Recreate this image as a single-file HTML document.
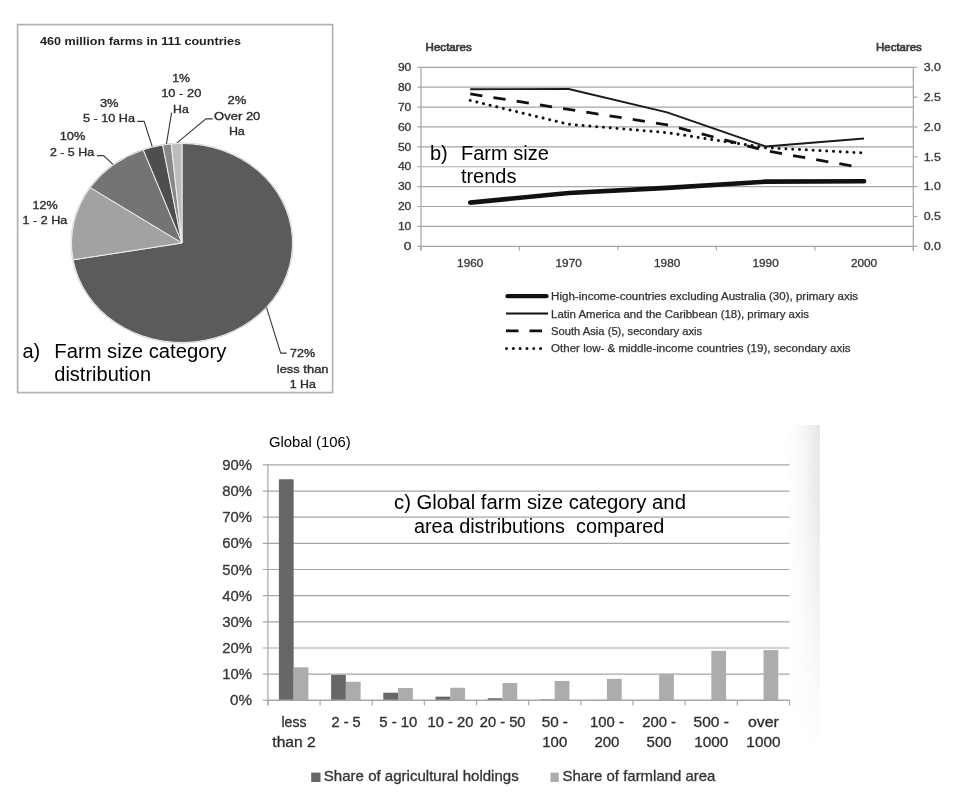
<!DOCTYPE html>
<html><head><meta charset="utf-8"><title>Farm size charts</title>
<style>html,body{margin:0;padding:0;background:#fff;width:965px;height:796px;overflow:hidden}svg{display:block;filter:blur(0.3px)}</style>
</head><body>
<svg width="965" height="796" viewBox="0 0 965 796"><rect x="17.6" y="24.6" width="315" height="368" fill="#fff" stroke="#b2b2b2" stroke-width="1.7"/>
<text x="40.10" y="44.90" font-family="Liberation Sans, sans-serif" font-size="11.4" font-weight="bold" fill="#1e1e1e" textLength="201.05" lengthAdjust="spacingAndGlyphs" xml:space="preserve">460 million farms in 111 countries</text>
<ellipse cx="182" cy="243" rx="111.4" ry="100.4" fill="#c9c9c9"/>
<path d="M182,243 L182.00,143.50 A110.5,99.5 0 1 1 73.09,259.80 Z" fill="#5b5b5b" stroke="#f0f0f0" stroke-width="1" stroke-linejoin="round"/>
<path d="M182,243 L73.09,259.80 A110.5,99.5 0 0 1 90.22,187.59 Z" fill="#a2a2a2" stroke="#f0f0f0" stroke-width="1" stroke-linejoin="round"/>
<path d="M182,243 L90.22,187.59 A110.5,99.5 0 0 1 143.27,149.81 Z" fill="#747474" stroke="#f0f0f0" stroke-width="1" stroke-linejoin="round"/>
<path d="M182,243 L143.27,149.81 A110.5,99.5 0 0 1 162.66,145.04 Z" fill="#4e4e4e" stroke="#f0f0f0" stroke-width="1" stroke-linejoin="round"/>
<path d="M182,243 L162.66,145.04 A110.5,99.5 0 0 1 171.26,143.97 Z" fill="#888888" stroke="#f0f0f0" stroke-width="1" stroke-linejoin="round"/>
<path d="M182,243 L171.26,143.97 A110.5,99.5 0 0 1 182.00,143.50 Z" fill="#bcbcbc" stroke="#f0f0f0" stroke-width="1" stroke-linejoin="round"/>
<polyline points="137.2,121.4 144.1,121.4 152.2,146.5" fill="none" stroke="#3a3a3a" stroke-width="1.1"/>
<polyline points="97,155.6 103.6,155.6 113,164.4" fill="none" stroke="#3a3a3a" stroke-width="1.1"/>
<polyline points="171.6,112.6 166.4,144.2" fill="none" stroke="#3a3a3a" stroke-width="1.1"/>
<polyline points="212.7,118.9 205.9,118.9 177,142.9" fill="none" stroke="#3a3a3a" stroke-width="1.1"/>
<polyline points="266.4,307.2 280.7,353.1 286.7,353.1" fill="none" stroke="#3a3a3a" stroke-width="1.1"/>
<text x="99.90" y="106.90" font-family="Liberation Sans, sans-serif" font-size="11.2" fill="#303030" textLength="18.69" lengthAdjust="spacingAndGlyphs" xml:space="preserve" stroke="#2a2a2a" stroke-width="0.35">3%</text>
<text x="82.90" y="122.30" font-family="Liberation Sans, sans-serif" font-size="11.2" fill="#303030" textLength="52.07" lengthAdjust="spacingAndGlyphs" xml:space="preserve" stroke="#2a2a2a" stroke-width="0.35">5 - 10 Ha</text>
<text x="59.70" y="140.20" font-family="Liberation Sans, sans-serif" font-size="11.2" fill="#303030" textLength="25.62" lengthAdjust="spacingAndGlyphs" xml:space="preserve" stroke="#2a2a2a" stroke-width="0.35">10%</text>
<text x="49.90" y="155.80" font-family="Liberation Sans, sans-serif" font-size="11.2" fill="#303030" textLength="44.14" lengthAdjust="spacingAndGlyphs" xml:space="preserve" stroke="#2a2a2a" stroke-width="0.35">2 - 5 Ha</text>
<text x="32.60" y="209.00" font-family="Liberation Sans, sans-serif" font-size="11.2" fill="#303030" textLength="25.12" lengthAdjust="spacingAndGlyphs" xml:space="preserve" stroke="#2a2a2a" stroke-width="0.35">12%</text>
<text x="22.60" y="224.00" font-family="Liberation Sans, sans-serif" font-size="11.2" fill="#303030" textLength="44.54" lengthAdjust="spacingAndGlyphs" xml:space="preserve" stroke="#2a2a2a" stroke-width="0.35">1 - 2 Ha</text>
<text x="172.30" y="81.50" font-family="Liberation Sans, sans-serif" font-size="11.2" fill="#303030" textLength="17.69" lengthAdjust="spacingAndGlyphs" xml:space="preserve" stroke="#2a2a2a" stroke-width="0.35">1%</text>
<text x="161.20" y="97.00" font-family="Liberation Sans, sans-serif" font-size="11.2" fill="#303030" textLength="40.17" lengthAdjust="spacingAndGlyphs" xml:space="preserve" stroke="#2a2a2a" stroke-width="0.35">10 - 20</text>
<text x="173.10" y="112.50" font-family="Liberation Sans, sans-serif" font-size="11.2" fill="#303030" textLength="15.71" lengthAdjust="spacingAndGlyphs" xml:space="preserve" stroke="#2a2a2a" stroke-width="0.35">Ha</text>
<text x="227.50" y="104.40" font-family="Liberation Sans, sans-serif" font-size="11.2" fill="#303030" textLength="18.79" lengthAdjust="spacingAndGlyphs" xml:space="preserve" stroke="#2a2a2a" stroke-width="0.35">2%</text>
<text x="214.10" y="120.00" font-family="Liberation Sans, sans-serif" font-size="11.2" fill="#303030" textLength="46.25" lengthAdjust="spacingAndGlyphs" xml:space="preserve" stroke="#2a2a2a" stroke-width="0.35">Over 20</text>
<text x="228.90" y="135.40" font-family="Liberation Sans, sans-serif" font-size="11.2" fill="#303030" textLength="15.91" lengthAdjust="spacingAndGlyphs" xml:space="preserve" stroke="#2a2a2a" stroke-width="0.35">Ha</text>
<text x="290.00" y="357.10" font-family="Liberation Sans, sans-serif" font-size="11.2" fill="#303030" textLength="25.02" lengthAdjust="spacingAndGlyphs" xml:space="preserve" stroke="#2a2a2a" stroke-width="0.35">72%</text>
<text x="276.80" y="372.60" font-family="Liberation Sans, sans-serif" font-size="11.2" fill="#303030" textLength="51.74" lengthAdjust="spacingAndGlyphs" xml:space="preserve" stroke="#2a2a2a" stroke-width="0.35">less than</text>
<text x="289.70" y="388.10" font-family="Liberation Sans, sans-serif" font-size="11.2" fill="#303030" textLength="26.16" lengthAdjust="spacingAndGlyphs" xml:space="preserve" stroke="#2a2a2a" stroke-width="0.35">1 Ha</text>
<text x="22.40" y="357.80" font-family="Liberation Sans, sans-serif" font-size="20" fill="#000" xml:space="preserve">a)</text>
<text x="54.30" y="357.80" font-family="Liberation Sans, sans-serif" font-size="20" fill="#000" textLength="172.05" lengthAdjust="spacingAndGlyphs" xml:space="preserve">Farm size category</text>
<text x="54.30" y="381.40" font-family="Liberation Sans, sans-serif" font-size="20" fill="#000" xml:space="preserve">distribution</text>
<line x1="417.4" y1="246.30" x2="913.3" y2="246.30" stroke="#a6a6a6" stroke-width="1.2"/>
<text x="403.80" y="250.00" font-family="Liberation Sans, sans-serif" font-size="10.5" fill="#383838" textLength="7.65" lengthAdjust="spacingAndGlyphs" xml:space="preserve" stroke="#383838" stroke-width="0.3">0</text>
<line x1="417.4" y1="226.41" x2="913.3" y2="226.41" stroke="#a6a6a6" stroke-width="1.2"/>
<text x="397.90" y="230.11" font-family="Liberation Sans, sans-serif" font-size="10.5" fill="#383838" textLength="13.47" lengthAdjust="spacingAndGlyphs" xml:space="preserve" stroke="#383838" stroke-width="0.3">10</text>
<line x1="417.4" y1="206.52" x2="913.3" y2="206.52" stroke="#a6a6a6" stroke-width="1.2"/>
<text x="397.90" y="210.22" font-family="Liberation Sans, sans-serif" font-size="10.5" fill="#383838" textLength="13.47" lengthAdjust="spacingAndGlyphs" xml:space="preserve" stroke="#383838" stroke-width="0.3">20</text>
<line x1="417.4" y1="186.63" x2="913.3" y2="186.63" stroke="#a6a6a6" stroke-width="1.2"/>
<text x="397.90" y="190.33" font-family="Liberation Sans, sans-serif" font-size="10.5" fill="#383838" textLength="13.47" lengthAdjust="spacingAndGlyphs" xml:space="preserve" stroke="#383838" stroke-width="0.3">30</text>
<line x1="417.4" y1="166.74" x2="913.3" y2="166.74" stroke="#a6a6a6" stroke-width="1.2"/>
<text x="397.90" y="170.44" font-family="Liberation Sans, sans-serif" font-size="10.5" fill="#383838" textLength="13.47" lengthAdjust="spacingAndGlyphs" xml:space="preserve" stroke="#383838" stroke-width="0.3">40</text>
<line x1="417.4" y1="146.86" x2="913.3" y2="146.86" stroke="#a6a6a6" stroke-width="1.2"/>
<text x="397.90" y="150.56" font-family="Liberation Sans, sans-serif" font-size="10.5" fill="#383838" textLength="13.47" lengthAdjust="spacingAndGlyphs" xml:space="preserve" stroke="#383838" stroke-width="0.3">50</text>
<line x1="417.4" y1="126.97" x2="913.3" y2="126.97" stroke="#a6a6a6" stroke-width="1.2"/>
<text x="397.90" y="130.67" font-family="Liberation Sans, sans-serif" font-size="10.5" fill="#383838" textLength="13.47" lengthAdjust="spacingAndGlyphs" xml:space="preserve" stroke="#383838" stroke-width="0.3">60</text>
<line x1="417.4" y1="107.08" x2="913.3" y2="107.08" stroke="#a6a6a6" stroke-width="1.2"/>
<text x="397.90" y="110.78" font-family="Liberation Sans, sans-serif" font-size="10.5" fill="#383838" textLength="13.47" lengthAdjust="spacingAndGlyphs" xml:space="preserve" stroke="#383838" stroke-width="0.3">70</text>
<line x1="417.4" y1="87.19" x2="913.3" y2="87.19" stroke="#a6a6a6" stroke-width="1.2"/>
<text x="397.90" y="90.89" font-family="Liberation Sans, sans-serif" font-size="10.5" fill="#383838" textLength="13.47" lengthAdjust="spacingAndGlyphs" xml:space="preserve" stroke="#383838" stroke-width="0.3">80</text>
<line x1="417.4" y1="67.30" x2="913.3" y2="67.30" stroke="#a6a6a6" stroke-width="1.2"/>
<text x="397.90" y="71.00" font-family="Liberation Sans, sans-serif" font-size="10.5" fill="#383838" textLength="13.47" lengthAdjust="spacingAndGlyphs" xml:space="preserve" stroke="#383838" stroke-width="0.3">90</text>
<line x1="913.3" y1="246.30" x2="917.4" y2="246.30" stroke="#a6a6a6" stroke-width="1.2"/>
<text x="923.70" y="250.00" font-family="Liberation Sans, sans-serif" font-size="10.5" fill="#383838" textLength="17.29" lengthAdjust="spacingAndGlyphs" xml:space="preserve" stroke="#383838" stroke-width="0.3">0.0</text>
<line x1="913.3" y1="216.47" x2="917.4" y2="216.47" stroke="#a6a6a6" stroke-width="1.2"/>
<text x="923.70" y="220.17" font-family="Liberation Sans, sans-serif" font-size="10.5" fill="#383838" textLength="17.29" lengthAdjust="spacingAndGlyphs" xml:space="preserve" stroke="#383838" stroke-width="0.3">0.5</text>
<line x1="913.3" y1="186.63" x2="917.4" y2="186.63" stroke="#a6a6a6" stroke-width="1.2"/>
<text x="923.70" y="190.33" font-family="Liberation Sans, sans-serif" font-size="10.5" fill="#383838" textLength="17.29" lengthAdjust="spacingAndGlyphs" xml:space="preserve" stroke="#383838" stroke-width="0.3">1.0</text>
<line x1="913.3" y1="156.80" x2="917.4" y2="156.80" stroke="#a6a6a6" stroke-width="1.2"/>
<text x="923.70" y="160.50" font-family="Liberation Sans, sans-serif" font-size="10.5" fill="#383838" textLength="17.29" lengthAdjust="spacingAndGlyphs" xml:space="preserve" stroke="#383838" stroke-width="0.3">1.5</text>
<line x1="913.3" y1="126.97" x2="917.4" y2="126.97" stroke="#a6a6a6" stroke-width="1.2"/>
<text x="923.70" y="130.67" font-family="Liberation Sans, sans-serif" font-size="10.5" fill="#383838" textLength="17.29" lengthAdjust="spacingAndGlyphs" xml:space="preserve" stroke="#383838" stroke-width="0.3">2.0</text>
<line x1="913.3" y1="97.13" x2="917.4" y2="97.13" stroke="#a6a6a6" stroke-width="1.2"/>
<text x="923.70" y="100.83" font-family="Liberation Sans, sans-serif" font-size="10.5" fill="#383838" textLength="17.29" lengthAdjust="spacingAndGlyphs" xml:space="preserve" stroke="#383838" stroke-width="0.3">2.5</text>
<line x1="913.3" y1="67.30" x2="917.4" y2="67.30" stroke="#a6a6a6" stroke-width="1.2"/>
<text x="923.70" y="71.00" font-family="Liberation Sans, sans-serif" font-size="10.5" fill="#383838" textLength="17.29" lengthAdjust="spacingAndGlyphs" xml:space="preserve" stroke="#383838" stroke-width="0.3">3.0</text>
<line x1="421" y1="67" x2="421" y2="250.6" stroke="#a6a6a6" stroke-width="1.2"/>
<line x1="913.3" y1="67" x2="913.3" y2="250.6" stroke="#a6a6a6" stroke-width="1.2"/>
<line x1="421.00" y1="246.3" x2="421.00" y2="250.6" stroke="#a6a6a6" stroke-width="1.2"/>
<line x1="519.46" y1="246.3" x2="519.46" y2="250.6" stroke="#a6a6a6" stroke-width="1.2"/>
<line x1="617.92" y1="246.3" x2="617.92" y2="250.6" stroke="#a6a6a6" stroke-width="1.2"/>
<line x1="716.38" y1="246.3" x2="716.38" y2="250.6" stroke="#a6a6a6" stroke-width="1.2"/>
<line x1="814.84" y1="246.3" x2="814.84" y2="250.6" stroke="#a6a6a6" stroke-width="1.2"/>
<line x1="913.30" y1="246.3" x2="913.30" y2="250.6" stroke="#a6a6a6" stroke-width="1.2"/>
<text x="457.13" y="266.60" font-family="Liberation Sans, sans-serif" font-size="10.2" fill="#383838" textLength="26.19" lengthAdjust="spacingAndGlyphs" xml:space="preserve" stroke="#383838" stroke-width="0.3">1960</text>
<text x="555.59" y="266.60" font-family="Liberation Sans, sans-serif" font-size="10.2" fill="#383838" textLength="26.19" lengthAdjust="spacingAndGlyphs" xml:space="preserve" stroke="#383838" stroke-width="0.3">1970</text>
<text x="654.05" y="266.60" font-family="Liberation Sans, sans-serif" font-size="10.2" fill="#383838" textLength="26.19" lengthAdjust="spacingAndGlyphs" xml:space="preserve" stroke="#383838" stroke-width="0.3">1980</text>
<text x="752.51" y="266.60" font-family="Liberation Sans, sans-serif" font-size="10.2" fill="#383838" textLength="26.19" lengthAdjust="spacingAndGlyphs" xml:space="preserve" stroke="#383838" stroke-width="0.3">1990</text>
<text x="850.97" y="266.60" font-family="Liberation Sans, sans-serif" font-size="10.2" fill="#383838" textLength="26.19" lengthAdjust="spacingAndGlyphs" xml:space="preserve" stroke="#383838" stroke-width="0.3">2000</text>
<text x="425.60" y="51.30" font-family="Liberation Sans, sans-serif" font-size="10.2" fill="#3a3a3a" textLength="46.22" lengthAdjust="spacingAndGlyphs" xml:space="preserve" stroke="#3a3a3a" stroke-width="0.6">Hectares</text>
<text x="876.10" y="51.30" font-family="Liberation Sans, sans-serif" font-size="10.2" fill="#3a3a3a" textLength="45.72" lengthAdjust="spacingAndGlyphs" xml:space="preserve" stroke="#3a3a3a" stroke-width="0.6">Hectares</text>
<polyline points="470.23,89.18 568.69,88.98 667.15,112.45 765.61,146.46 864.07,138.50" fill="none" stroke="#1a1a1a" stroke-width="1.9" stroke-linejoin="round"/>
<polyline points="470.23,93.85 568.69,109.42 667.15,124.82 765.61,150.65 854.22,166.39" fill="none" stroke="#111" stroke-width="2.8" stroke-dasharray="12.3 11.2" stroke-linejoin="round"/>
<polyline points="470.23,100.41 568.69,124.28 667.15,132.63 765.61,147.67 864.07,152.98" fill="none" stroke="#111" stroke-width="3.0" stroke-dasharray="0.01 6.8" stroke-linecap="round"/>
<polyline points="470.23,202.62 568.69,193.00 667.15,187.83 765.61,181.66 864.07,181.26" fill="none" stroke="#111" stroke-width="4.6" stroke-linecap="round" stroke-linejoin="round"/>
<text x="429.90" y="159.90" font-family="Liberation Sans, sans-serif" font-size="20" fill="#000" xml:space="preserve">b)</text>
<text x="460.90" y="159.90" font-family="Liberation Sans, sans-serif" font-size="20" fill="#000" textLength="87.99" lengthAdjust="spacingAndGlyphs" xml:space="preserve">Farm size</text>
<text x="460.90" y="183.40" font-family="Liberation Sans, sans-serif" font-size="20" fill="#000" xml:space="preserve">trends</text>
<line x1="507.5" y1="296.1" x2="546.5" y2="296.1" stroke="#111" stroke-width="4.4" stroke-linecap="round"/>
<line x1="506" y1="313.5" x2="548" y2="313.5" stroke="#111" stroke-width="1.8"/>
<line x1="506" y1="330.8" x2="547" y2="330.8" stroke="#111" stroke-width="2.8" stroke-dasharray="12.5 11"/>
<line x1="506.5" y1="348.5" x2="546" y2="348.5" stroke="#111" stroke-width="3" stroke-dasharray="0.01 6.8" stroke-linecap="round"/>
<text x="551.10" y="300.40" font-family="Liberation Sans, sans-serif" font-size="10" fill="#333" textLength="307.00" lengthAdjust="spacingAndGlyphs" xml:space="preserve" stroke="#333" stroke-width="0.25">High-income-countries excluding Australia (30), primary axis</text>
<text x="551.10" y="317.50" font-family="Liberation Sans, sans-serif" font-size="10" fill="#333" textLength="257.86" lengthAdjust="spacingAndGlyphs" xml:space="preserve" stroke="#333" stroke-width="0.25">Latin America and the Caribbean (18), primary axis</text>
<text x="551.10" y="334.50" font-family="Liberation Sans, sans-serif" font-size="10" fill="#333" textLength="151.06" lengthAdjust="spacingAndGlyphs" xml:space="preserve" stroke="#333" stroke-width="0.25">South Asia (5), secondary axis</text>
<text x="551.10" y="351.50" font-family="Liberation Sans, sans-serif" font-size="10" fill="#333" textLength="299.53" lengthAdjust="spacingAndGlyphs" xml:space="preserve" stroke="#333" stroke-width="0.25">Other low- &amp; middle-income countries (19), secondary axis</text>
<defs><linearGradient id="gh" x1="0" x2="1" y1="0" y2="0"><stop offset="0" stop-color="#e8e8e8" stop-opacity="0"/><stop offset="0.4" stop-color="#e8e8e8" stop-opacity="0.25"/><stop offset="1" stop-color="#e6e6e6" stop-opacity="1"/></linearGradient><linearGradient id="gv" x1="0" x2="0" y1="0" y2="1"><stop offset="0" stop-color="#fff"/><stop offset="0.25" stop-color="#e6e6e6"/><stop offset="0.55" stop-color="#8c8c8c"/><stop offset="1" stop-color="#000"/></linearGradient><mask id="mv" maskUnits="userSpaceOnUse" x="780" y="420" width="45" height="340"><rect x="780" y="425" width="45" height="325" fill="url(#gv)"/></mask></defs>
<rect x="787" y="425" width="33" height="325" fill="url(#gh)" mask="url(#mv)"/>
<line x1="262.8" y1="674.14" x2="789.5" y2="674.14" stroke="#a6a6a6" stroke-width="1.2"/>
<line x1="262.8" y1="647.99" x2="789.5" y2="647.99" stroke="#a6a6a6" stroke-width="1.2"/>
<line x1="262.8" y1="621.83" x2="789.5" y2="621.83" stroke="#a6a6a6" stroke-width="1.2"/>
<line x1="262.8" y1="595.68" x2="789.5" y2="595.68" stroke="#a6a6a6" stroke-width="1.2"/>
<line x1="262.8" y1="569.52" x2="789.5" y2="569.52" stroke="#a6a6a6" stroke-width="1.2"/>
<line x1="262.8" y1="543.36" x2="789.5" y2="543.36" stroke="#a6a6a6" stroke-width="1.2"/>
<line x1="262.8" y1="517.21" x2="789.5" y2="517.21" stroke="#a6a6a6" stroke-width="1.2"/>
<line x1="262.8" y1="491.05" x2="789.5" y2="491.05" stroke="#a6a6a6" stroke-width="1.2"/>
<line x1="262.8" y1="464.90" x2="789.5" y2="464.90" stroke="#a6a6a6" stroke-width="1.2"/>
<line x1="262.8" y1="700.30" x2="267.9" y2="700.30" stroke="#a6a6a6" stroke-width="1.2"/>
<text x="230.00" y="705.30" font-family="Liberation Sans, sans-serif" font-size="14" fill="#383838" textLength="22.04" lengthAdjust="spacingAndGlyphs" xml:space="preserve" stroke="#383838" stroke-width="0.3">0%</text>
<text x="222.20" y="679.14" font-family="Liberation Sans, sans-serif" font-size="14" fill="#383838" textLength="29.82" lengthAdjust="spacingAndGlyphs" xml:space="preserve" stroke="#383838" stroke-width="0.3">10%</text>
<text x="222.20" y="652.99" font-family="Liberation Sans, sans-serif" font-size="14" fill="#383838" textLength="29.82" lengthAdjust="spacingAndGlyphs" xml:space="preserve" stroke="#383838" stroke-width="0.3">20%</text>
<text x="222.20" y="626.83" font-family="Liberation Sans, sans-serif" font-size="14" fill="#383838" textLength="29.82" lengthAdjust="spacingAndGlyphs" xml:space="preserve" stroke="#383838" stroke-width="0.3">30%</text>
<text x="222.20" y="600.68" font-family="Liberation Sans, sans-serif" font-size="14" fill="#383838" textLength="29.82" lengthAdjust="spacingAndGlyphs" xml:space="preserve" stroke="#383838" stroke-width="0.3">40%</text>
<text x="222.20" y="574.52" font-family="Liberation Sans, sans-serif" font-size="14" fill="#383838" textLength="29.82" lengthAdjust="spacingAndGlyphs" xml:space="preserve" stroke="#383838" stroke-width="0.3">50%</text>
<text x="222.20" y="548.36" font-family="Liberation Sans, sans-serif" font-size="14" fill="#383838" textLength="29.82" lengthAdjust="spacingAndGlyphs" xml:space="preserve" stroke="#383838" stroke-width="0.3">60%</text>
<text x="222.20" y="522.21" font-family="Liberation Sans, sans-serif" font-size="14" fill="#383838" textLength="29.82" lengthAdjust="spacingAndGlyphs" xml:space="preserve" stroke="#383838" stroke-width="0.3">70%</text>
<text x="222.20" y="496.05" font-family="Liberation Sans, sans-serif" font-size="14" fill="#383838" textLength="29.82" lengthAdjust="spacingAndGlyphs" xml:space="preserve" stroke="#383838" stroke-width="0.3">80%</text>
<text x="222.20" y="469.90" font-family="Liberation Sans, sans-serif" font-size="14" fill="#383838" textLength="29.82" lengthAdjust="spacingAndGlyphs" xml:space="preserve" stroke="#383838" stroke-width="0.3">90%</text>
<rect x="278.90" y="479.28" width="14.75" height="221.02" fill="#676767"/>
<rect x="293.65" y="667.34" width="14.75" height="32.96" fill="#acacac"/>
<rect x="331.11" y="674.93" width="14.75" height="25.37" fill="#676767"/>
<rect x="345.86" y="681.73" width="14.75" height="18.57" fill="#acacac"/>
<rect x="383.32" y="692.71" width="14.75" height="7.59" fill="#676767"/>
<rect x="398.07" y="688.01" width="14.75" height="12.29" fill="#acacac"/>
<rect x="435.53" y="696.64" width="14.75" height="3.66" fill="#676767"/>
<rect x="450.28" y="687.75" width="14.75" height="12.55" fill="#acacac"/>
<rect x="487.74" y="698.21" width="14.75" height="2.09" fill="#676767"/>
<rect x="502.49" y="683.04" width="14.75" height="17.26" fill="#acacac"/>
<rect x="539.95" y="699.52" width="14.75" height="0.78" fill="#676767"/>
<rect x="554.70" y="680.94" width="14.75" height="19.36" fill="#acacac"/>
<rect x="592.16" y="699.91" width="14.75" height="0.39" fill="#676767"/>
<rect x="606.91" y="678.85" width="14.75" height="21.45" fill="#acacac"/>
<rect x="644.37" y="700.04" width="14.75" height="0.26" fill="#676767"/>
<rect x="659.12" y="673.88" width="14.75" height="26.42" fill="#acacac"/>
<rect x="696.58" y="700.17" width="14.75" height="0.13" fill="#676767"/>
<rect x="711.33" y="650.87" width="14.75" height="49.43" fill="#acacac"/>
<rect x="748.79" y="700.17" width="14.75" height="0.13" fill="#676767"/>
<rect x="763.54" y="650.08" width="14.75" height="50.22" fill="#acacac"/>
<line x1="267.9" y1="464" x2="267.9" y2="705.3" stroke="#a6a6a6" stroke-width="1.2"/>
<line x1="267.9" y1="700.3" x2="789.5" y2="700.3" stroke="#a6a6a6" stroke-width="1.4"/>
<line x1="267.90" y1="700.3" x2="267.90" y2="705.4" stroke="#a6a6a6" stroke-width="1.2"/>
<line x1="320.06" y1="700.3" x2="320.06" y2="705.4" stroke="#a6a6a6" stroke-width="1.2"/>
<line x1="372.22" y1="700.3" x2="372.22" y2="705.4" stroke="#a6a6a6" stroke-width="1.2"/>
<line x1="424.38" y1="700.3" x2="424.38" y2="705.4" stroke="#a6a6a6" stroke-width="1.2"/>
<line x1="476.54" y1="700.3" x2="476.54" y2="705.4" stroke="#a6a6a6" stroke-width="1.2"/>
<line x1="528.70" y1="700.3" x2="528.70" y2="705.4" stroke="#a6a6a6" stroke-width="1.2"/>
<line x1="580.86" y1="700.3" x2="580.86" y2="705.4" stroke="#a6a6a6" stroke-width="1.2"/>
<line x1="633.02" y1="700.3" x2="633.02" y2="705.4" stroke="#a6a6a6" stroke-width="1.2"/>
<line x1="685.18" y1="700.3" x2="685.18" y2="705.4" stroke="#a6a6a6" stroke-width="1.2"/>
<line x1="737.34" y1="700.3" x2="737.34" y2="705.4" stroke="#a6a6a6" stroke-width="1.2"/>
<line x1="789.50" y1="700.3" x2="789.50" y2="705.4" stroke="#a6a6a6" stroke-width="1.2"/>
<text x="281.48" y="726.70" font-family="Liberation Sans, sans-serif" font-size="14" fill="#2e2e2e" textLength="25.00" lengthAdjust="spacingAndGlyphs" xml:space="preserve" stroke="#2e2e2e" stroke-width="0.3">less</text>
<text x="272.33" y="746.60" font-family="Liberation Sans, sans-serif" font-size="14" fill="#2e2e2e" textLength="43.32" lengthAdjust="spacingAndGlyphs" xml:space="preserve" stroke="#2e2e2e" stroke-width="0.3">than 2</text>
<text x="331.54" y="726.70" font-family="Liberation Sans, sans-serif" font-size="14" fill="#2e2e2e" textLength="29.21" lengthAdjust="spacingAndGlyphs" xml:space="preserve" stroke="#2e2e2e" stroke-width="0.3">2 - 5</text>
<text x="379.25" y="726.70" font-family="Liberation Sans, sans-serif" font-size="14" fill="#2e2e2e" textLength="38.10" lengthAdjust="spacingAndGlyphs" xml:space="preserve" stroke="#2e2e2e" stroke-width="0.3">5 - 10</text>
<text x="427.56" y="726.70" font-family="Liberation Sans, sans-serif" font-size="14" fill="#2e2e2e" textLength="45.78" lengthAdjust="spacingAndGlyphs" xml:space="preserve" stroke="#2e2e2e" stroke-width="0.3">10 - 20</text>
<text x="479.72" y="726.70" font-family="Liberation Sans, sans-serif" font-size="14" fill="#2e2e2e" textLength="45.78" lengthAdjust="spacingAndGlyphs" xml:space="preserve" stroke="#2e2e2e" stroke-width="0.3">20 - 50</text>
<text x="541.68" y="726.70" font-family="Liberation Sans, sans-serif" font-size="14" fill="#2e2e2e" textLength="26.23" lengthAdjust="spacingAndGlyphs" xml:space="preserve" stroke="#2e2e2e" stroke-width="0.3">50 -</text>
<text x="542.28" y="746.60" font-family="Liberation Sans, sans-serif" font-size="14" fill="#2e2e2e" textLength="24.95" lengthAdjust="spacingAndGlyphs" xml:space="preserve" stroke="#2e2e2e" stroke-width="0.3">100</text>
<text x="590.04" y="726.70" font-family="Liberation Sans, sans-serif" font-size="14" fill="#2e2e2e" textLength="33.81" lengthAdjust="spacingAndGlyphs" xml:space="preserve" stroke="#2e2e2e" stroke-width="0.3">100 -</text>
<text x="594.44" y="746.60" font-family="Liberation Sans, sans-serif" font-size="14" fill="#2e2e2e" textLength="24.95" lengthAdjust="spacingAndGlyphs" xml:space="preserve" stroke="#2e2e2e" stroke-width="0.3">200</text>
<text x="642.20" y="726.70" font-family="Liberation Sans, sans-serif" font-size="14" fill="#2e2e2e" textLength="33.81" lengthAdjust="spacingAndGlyphs" xml:space="preserve" stroke="#2e2e2e" stroke-width="0.3">200 -</text>
<text x="646.60" y="746.60" font-family="Liberation Sans, sans-serif" font-size="14" fill="#2e2e2e" textLength="24.95" lengthAdjust="spacingAndGlyphs" xml:space="preserve" stroke="#2e2e2e" stroke-width="0.3">500</text>
<text x="693.51" y="726.70" font-family="Liberation Sans, sans-serif" font-size="14" fill="#2e2e2e" textLength="35.51" lengthAdjust="spacingAndGlyphs" xml:space="preserve" stroke="#2e2e2e" stroke-width="0.3">500 -</text>
<text x="694.21" y="746.60" font-family="Liberation Sans, sans-serif" font-size="14" fill="#2e2e2e" textLength="34.15" lengthAdjust="spacingAndGlyphs" xml:space="preserve" stroke="#2e2e2e" stroke-width="0.3">1000</text>
<text x="748.02" y="726.70" font-family="Liberation Sans, sans-serif" font-size="14" fill="#2e2e2e" textLength="30.84" lengthAdjust="spacingAndGlyphs" xml:space="preserve" stroke="#2e2e2e" stroke-width="0.3">over</text>
<text x="746.37" y="746.60" font-family="Liberation Sans, sans-serif" font-size="14" fill="#2e2e2e" textLength="34.15" lengthAdjust="spacingAndGlyphs" xml:space="preserve" stroke="#2e2e2e" stroke-width="0.3">1000</text>
<rect x="311.2" y="772.6" width="9.3" height="9.4" fill="#676767"/>
<text x="323.80" y="781.40" font-family="Liberation Sans, sans-serif" font-size="14.2" fill="#333" textLength="194.91" lengthAdjust="spacingAndGlyphs" xml:space="preserve" stroke="#333" stroke-width="0.3">Share of agricultural holdings</text>
<rect x="550.5" y="772.6" width="8.3" height="9.4" fill="#acacac"/>
<text x="562.50" y="781.40" font-family="Liberation Sans, sans-serif" font-size="14.2" fill="#333" textLength="152.93" lengthAdjust="spacingAndGlyphs" xml:space="preserve" stroke="#333" stroke-width="0.3">Share of farmland area</text>
<text x="268.90" y="446.50" font-family="Liberation Sans, sans-serif" font-size="13.8" fill="#000" textLength="81.94" lengthAdjust="spacingAndGlyphs" xml:space="preserve">Global (106)</text>
<text x="394.00" y="509.20" font-family="Liberation Sans, sans-serif" font-size="20" fill="#000" textLength="291.91" lengthAdjust="spacingAndGlyphs" xml:space="preserve">c) Global farm size category and</text>
<text x="413.90" y="533.00" font-family="Liberation Sans, sans-serif" font-size="20" fill="#000" textLength="250.46" lengthAdjust="spacingAndGlyphs" xml:space="preserve">area distributions  compared</text></svg>
</body></html>
